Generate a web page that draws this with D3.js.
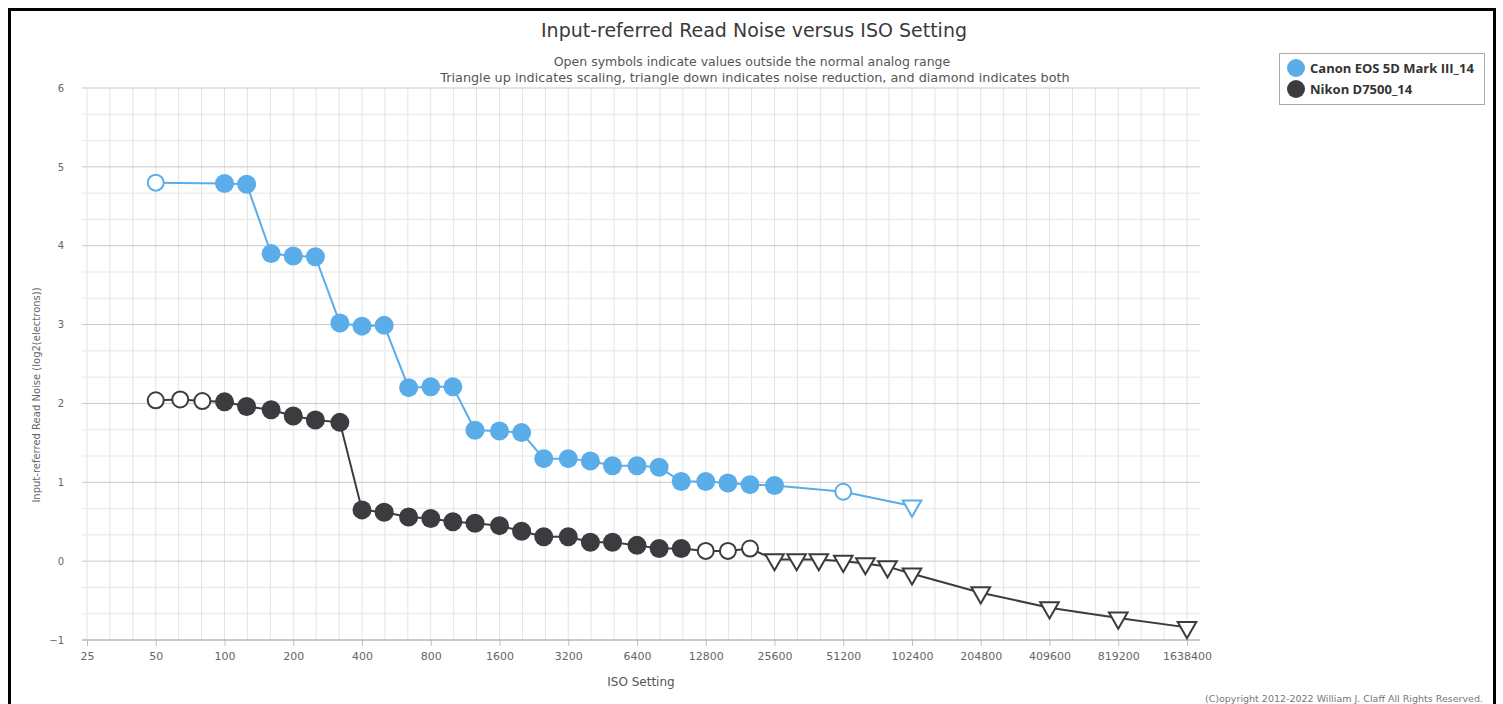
<!DOCTYPE html>
<html><head><meta charset="utf-8">
<script src="https://cdn.jsdelivr.net/npm/d3@7"></script>
<style>
body{margin:0;background:#fff;}
svg{display:block;font-family:"DejaVu Sans",sans-serif;}
</style></head>
<body><svg id="c" width="1503" height="704"></svg>
<script>
// ---- data ----
const title = "Input-referred Read Noise versus ISO Setting";
const subtitle1 = "Open symbols indicate values outside the normal analog range";
const subtitle2 = "Triangle up indicates scaling, triangle down indicates noise reduction, and diamond indicates both";
const xTickLabels = [25,50,100,200,400,800,1600,3200,6400,12800,25600,51200,102400,204800,409600,819200,1638400];
const yTickLabels = [-1,0,1,2,3,4,5,6];

const canonName = "Canon EOS 5D Mark III_14";
const canonIso   = [50,100,125,160,200,250,320,400,500,640,800,1000,1250,1600,2000,2500,3200,4000,5000,6400,8000,10000,12800,16000,20000,25600,51200,102400];
const canonNoise = [4.80,4.79,4.78,3.90,3.87,3.86,3.02,2.98,2.99,2.20,2.21,2.21,1.66,1.65,1.63,1.30,1.30,1.27,1.21,1.21,1.19,1.01,1.01,0.99,0.97,0.96,0.88,0.70];
const canonSym   = ["open","fill","fill","fill","fill","fill","fill","fill","fill","fill","fill","fill","fill","fill","fill","fill","fill","fill","fill","fill","fill","fill","fill","fill","fill","fill","open","down"];

const nikonName = "Nikon D7500_14";
const nikonIso   = [50,64,80,100,125,160,200,250,320,400,500,640,800,1000,1250,1600,2000,2500,3200,4000,5000,6400,8000,10000,12800,16000,20000,25600,32000,40000,51200,64000,80000,102400,204800,409600,819200,1638400];
const nikonNoise = [2.04,2.05,2.03,2.02,1.96,1.92,1.84,1.79,1.76,0.65,0.62,0.56,0.54,0.50,0.48,0.45,0.38,0.31,0.31,0.24,0.24,0.20,0.16,0.16,0.13,0.13,0.16,0.02,0.02,0.02,0.00,-0.03,-0.07,-0.16,-0.40,-0.59,-0.72,-0.84];
const nikonSym   = ["open","open","open","fill","fill","fill","fill","fill","fill","fill","fill","fill","fill","fill","fill","fill","fill","fill","fill","fill","fill","fill","fill","fill","open","open","open","down","down","down","down","down","down","down","down","down","down","down"];

const canonColor = "#5aade9";
const nikonColor = "#3b3b40";

// ---- chart ----
const svg = d3.select("#c");
svg.append("rect").attr("x",9.5).attr("y",9.5).attr("width",1485).attr("height",730)
  .attr("fill","#fff").attr("stroke","#000").attr("stroke-width",3);

const x = d3.scaleLog().base(2).domain([25,1638400]).range([87,1187]);
const y = d3.scaleLinear().domain([-1,6]).range([640,88]);
const plotL = 82, plotR = 1200;

// grid
const g = svg.append("g");
const vLines = d3.range(0,49).map(k => 25*Math.pow(2,k/3));
g.selectAll(".vg").data(vLines).enter().append("line")
  .attr("x1",d=>x(d)).attr("x2",d=>x(d)).attr("y1",y(6)).attr("y2",y(-1))
  .attr("stroke","#e3e3e3").attr("stroke-width",1);
const hLines = d3.range(0,22).map(j => -1 + j/3);
g.selectAll(".hg").data(hLines).enter().append("line")
  .attr("x1",plotL).attr("x2",plotR).attr("y1",d=>y(d)).attr("y2",d=>y(d))
  .attr("stroke",(d,i)=> i%3===0 ? "#c9c9c9" : "#e6e6e6").attr("stroke-width",1);

// axes
const xAxis = svg.append("g").attr("transform",`translate(0,${y(-1)})`)
  .call(d3.axisBottom(x).tickValues(xTickLabels).tickFormat(d3.format("d")).tickSize(6).tickPadding(6));
xAxis.select(".domain").remove();
xAxis.append("line").attr("x1",plotL).attr("x2",plotR).attr("stroke","#b0b0b0");
xAxis.selectAll(".tick line").attr("stroke","#c0c0c0");
xAxis.selectAll("text").attr("fill","#666").attr("font-size",11).attr("font-family","DejaVu Sans");

const yAxis = svg.append("g").attr("transform",`translate(${plotL},0)`)
  .call(d3.axisLeft(y).tickValues(yTickLabels).tickFormat(d3.format("d")).tickSize(0).tickPadding(18));
yAxis.select(".domain").remove();
yAxis.selectAll("text").attr("fill","#666").attr("font-size",10).attr("font-family","DejaVu Sans");

// titles
svg.append("text").attr("x",754).attr("y",37).attr("text-anchor","middle")
  .attr("font-size",19).attr("fill","#3a3a3a").text(title);
svg.append("text").attr("x",752).attr("y",66).attr("text-anchor","middle")
  .attr("font-size",12.5).attr("fill","#555").text(subtitle1);
svg.append("text").attr("x",755).attr("y",82).attr("text-anchor","middle")
  .attr("font-size",12.8).attr("fill","#555").text(subtitle2);
svg.append("text").attr("x",641).attr("y",686).attr("text-anchor","middle")
  .attr("font-size",12).attr("fill","#555").text("ISO Setting");
svg.append("text").attr("transform","translate(40,395) rotate(-90)").attr("text-anchor","middle")
  .attr("font-size",10).attr("fill","#666").text("Input-referred Read Noise (log2(electrons))");
svg.append("text").attr("x",1483).attr("y",702).attr("text-anchor","end")
  .attr("font-size",9.5).attr("fill","#777").text("(C)opyright 2012-2022 William J. Claff All Rights Reserved.");

// series
function drawSeries(iso, noise, sym, color){
  const data = iso.map((d,i)=>({iso:d, v:noise[i], s:sym[i]}));
  const line = d3.line().x(d=>x(d.iso)).y(d=>y(d.v));
  svg.append("path").datum(data).attr("d",line).attr("fill","none")
    .attr("stroke",color).attr("stroke-width",2);
  const tri = d3.symbol().type(d3.symbolTriangle).size(150);
  data.forEach(d=>{
    if(d.s==="down"){
      svg.append("path").attr("d",tri())
        .attr("transform",`translate(${x(d.iso)},${y(d.v)}) rotate(180)`)
        .attr("fill","#fff").attr("stroke",color).attr("stroke-width",2);
    } else if(d.s==="open"){
      svg.append("circle").attr("cx",x(d.iso)).attr("cy",y(d.v)).attr("r",8)
        .attr("fill","#fff").attr("stroke",color).attr("stroke-width",2);
    } else {
      svg.append("circle").attr("cx",x(d.iso)).attr("cy",y(d.v)).attr("r",9.5)
        .attr("fill",color);
    }
  });
}
drawSeries(canonIso, canonNoise, canonSym, canonColor);
drawSeries(nikonIso, nikonNoise, nikonSym, nikonColor);

// legend
const lg = svg.append("g");
lg.append("rect").attr("x",1279.5).attr("y",53.5).attr("width",205).attr("height",51)
  .attr("fill","#fff").attr("stroke","#aaa");
[[canonName,canonColor],[nikonName,nikonColor]].forEach((d,i)=>{
  lg.append("circle").attr("cx",1296).attr("cy",68+i*21).attr("r",9).attr("fill",d[1]);
  lg.append("text").attr("x",1310).attr("y",72.5+i*21).attr("font-size",13)
    .attr("font-family","Open Sans").attr("font-weight","bold").attr("fill","#333").text(d[0]);
});
</script></body></html>
